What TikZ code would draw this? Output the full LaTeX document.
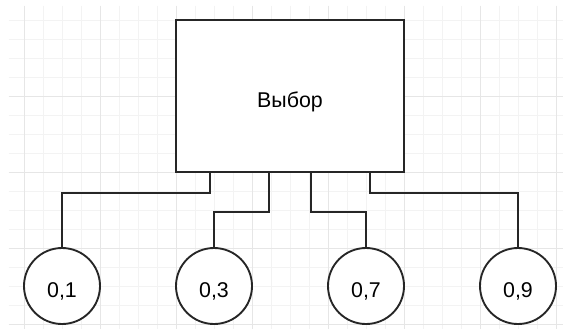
\documentclass[tikz,border=0pt]{standalone}
\usepackage{fontspec}
\setmainfont{Liberation Sans}
\usetikzlibrary{calc}
\definecolor{grid-minor}{HTML}{F3F3F3}
\definecolor{grid-major}{HTML}{E6E6E6}

\begin{document}
\begin{tikzpicture}[x=0.5cm, y=-0.5cm,
    line/.style={line width=1.4pt, draw=black!85},
    wire/.style={line width=1.3pt, draw=black!85},
    label/.style={font=\fontsize{16}{19}\selectfont, text height=17pt, text depth=0pt},
    prob/.style={circle, line, fill=white, minimum size=2cm, inner sep=0pt, label}]
    % page and background grid
    \fill[white] (-1.263,-1.053) rectangle (28.368,16.263);
    \useasboundingbox (-1.263,-1.053) rectangle (28.368,16.263);
    \foreach \i in {0,...,28}
      \draw[grid-minor, line width=0.7pt] (\i,-0.74) -- (\i,16.263);
    \foreach \j in {0,...,16}
      \draw[grid-minor, line width=0.7pt] (-0.79,\j) -- (28.368,\j);
    \foreach \i in {0,4,...,28}
      \draw[grid-major, line width=0.7pt] (\i,-0.74) -- (\i,16.263);
    \foreach \j in {4,8,12,16}
      \draw[grid-major, line width=0.7pt] (-0.79,\j) -- (28.368,\j);

    \node[draw, line, fill=white, minimum width=6cm, minimum height=4cm, label]
      (choice) at (14,4) {Выбор};

    \node[prob] (p1) at (2,14)  {0,1};
    \node[prob] (p3) at (10,14) {0,3};
    \node[prob] (p7) at (18,14) {0,7};
    \node[prob] (p9) at (26,14) {0,9};

    % exits on the bottom side
    \coordinate (o1) at ($(choice.south west)!0.153!(choice.south east)$);
    \coordinate (o3) at ($(choice.south west)!0.41!(choice.south east)$);
    \coordinate (o7) at ($(choice.south west)!0.59!(choice.south east)$);
    \coordinate (o9) at ($(choice.south west)!0.847!(choice.south east)$);

    \draw[wire] (o1) -- ++(0,1.05) -| (p1.north);
    \draw[wire] (o3) -- ++(0,2.05) -| (p3.north);
    \draw[wire] (o7) -- ++(0,2.05) -| (p7.north);
    \draw[wire] (o9) -- ++(0,1.05) -| (p9.north);
\end{tikzpicture}
\end{document}
